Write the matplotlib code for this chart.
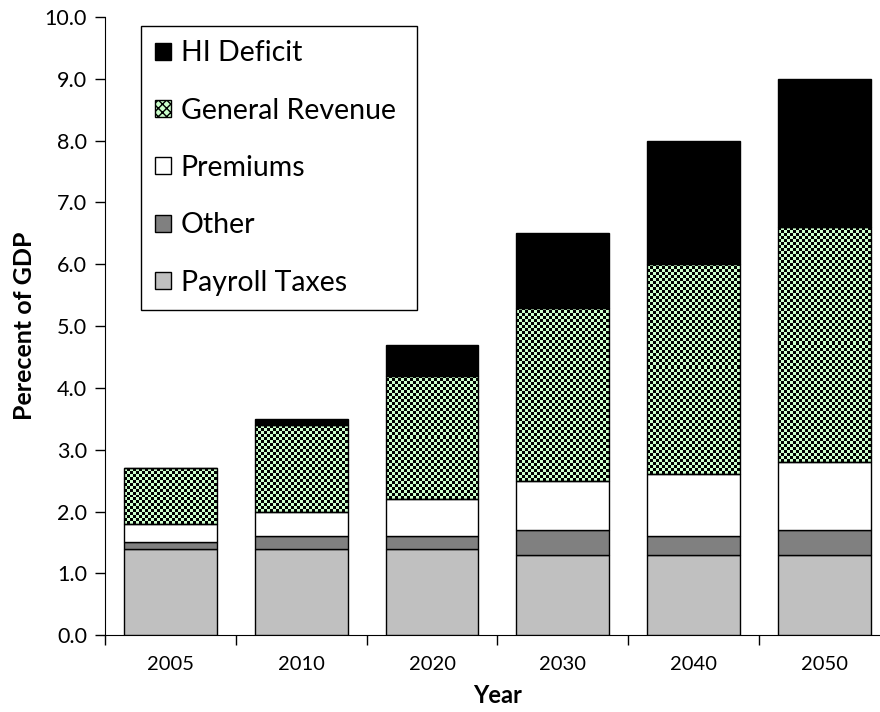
import numpy as np
import matplotlib
matplotlib.use("Agg")
import matplotlib.pyplot as plt
from matplotlib.colors import ListedColormap
from matplotlib.patches import Patch

# Daten
years = ['2005', '2010', '2020', '2030', '2040', '2050']
payroll = [1.4, 1.4, 1.4, 1.3, 1.3, 1.3]
other = [0.1, 0.2, 0.2, 0.4, 0.3, 0.4]
premiums = [0.3, 0.4, 0.6, 0.8, 1.0, 1.1]
general_revenue = [0.9, 1.4, 2.0, 2.8, 3.4, 3.8]
hi_deficit = [0.0, 0.1, 0.5, 1.2, 2.0, 2.4]

GREEN = '#ccffcc'
plt.rcParams['font.family'] = ['Lato', 'DejaVu Sans']

fig = plt.figure(figsize=(8.8, 7.12), dpi=100)
ax = fig.add_axes([0.1193, 0.108, 0.892, 0.868])

x = np.arange(len(years))
w = 0.71
ax.set_xlim(-0.5, len(years) - 0.5)
ax.set_ylim(0, 10)

bottom = np.zeros(len(years))
ax.bar(x, payroll, w, bottom=bottom, color='#c0c0c0', edgecolor='black', linewidth=1, zorder=3)
bottom += payroll
ax.bar(x, other, w, bottom=bottom, color='#808080', edgecolor='black', linewidth=1, zorder=3)
bottom += other
ax.bar(x, premiums, w, bottom=bottom, color='white', edgecolor='black', linewidth=1, zorder=3)
bottom += premiums
gr_bars = ax.bar(x, general_revenue, w, bottom=bottom, facecolor='none', edgecolor='black',
                 linewidth=1, zorder=3)
bottom += general_revenue
ax.bar(x, hi_deficit, w, bottom=bottom, color='black', edgecolor='black', linewidth=1, zorder=3)

# Schachbrettmuster fuer General Revenue (ca. 3 px Felder)
cmap = ListedColormap([GREEN, 'black'])
cell = 3.0
for bar in gr_bars:
    x0, y0 = bar.get_x(), bar.get_y()
    x1, y1 = x0 + bar.get_width(), y0 + bar.get_height()
    (px0, py0), (px1, py1) = ax.transData.transform([(x0, y0), (x1, y1)])
    nx = max(1, int(round((px1 - px0) / cell)))
    ny = max(1, int(round((py1 - py0) / cell)))
    ii, jj = np.indices((ny, nx))
    board = (ii + jj) % 2
    ax.imshow(board, extent=(x0, x1, y0, y1), origin='lower', cmap=cmap,
              interpolation='nearest', aspect='auto', zorder=2)

ax.set_xlim(-0.5, len(years) - 0.5)
ax.set_ylim(0, 10)

# Achsen
ax.spines['top'].set_visible(False)
ax.spines['right'].set_visible(False)
ax.set_yticks(np.arange(0, 11, 1))
ax.set_yticklabels([f'{v:.1f}' for v in range(11)], fontsize=15.5)
ax.tick_params(axis='y', direction='out', length=7, width=1, pad=6)

ax.set_xticks(np.arange(-0.5, len(years) + 0.5, 1))
ax.set_xticklabels([])
ax.set_xticks(x, minor=True)
ax.set_xticklabels(years, minor=True, fontsize=14.5)
ax.tick_params(axis='x', which='major', direction='out', length=7, width=1)
ax.tick_params(axis='x', which='minor', length=0, pad=15)

ax.set_ylabel('Perecent of GDP', fontsize=18, fontweight='bold', labelpad=6)
ax.set_xlabel('Year', fontsize=17, fontweight='bold', labelpad=8)

# Legende
handles = [
    Patch(facecolor='black', edgecolor='black', label='HI Deficit'),
    Patch(facecolor=GREEN, edgecolor='black', hatch='xxxx', label='General Revenue'),
    Patch(facecolor='white', edgecolor='black', label='Premiums'),
    Patch(facecolor='#808080', edgecolor='black', label='Other'),
    Patch(facecolor='#c0c0c0', edgecolor='black', label='Payroll Taxes'),
]
leg = ax.legend(handles=handles, loc='upper left',
                bbox_to_anchor=(141 / 880, 1 - 308 / 712, 276 / 880, 282 / 712),
                bbox_transform=fig.transFigure, mode='expand', borderaxespad=0, fontsize=20.5,
                fancybox=False, framealpha=1, edgecolor='black', handlelength=0.55,
                handleheight=0.55, handletextpad=0.35, labelspacing=1.1, borderpad=0.5)
leg.get_frame().set_linewidth(1)

fig.savefig('out.png', dpi=100)
